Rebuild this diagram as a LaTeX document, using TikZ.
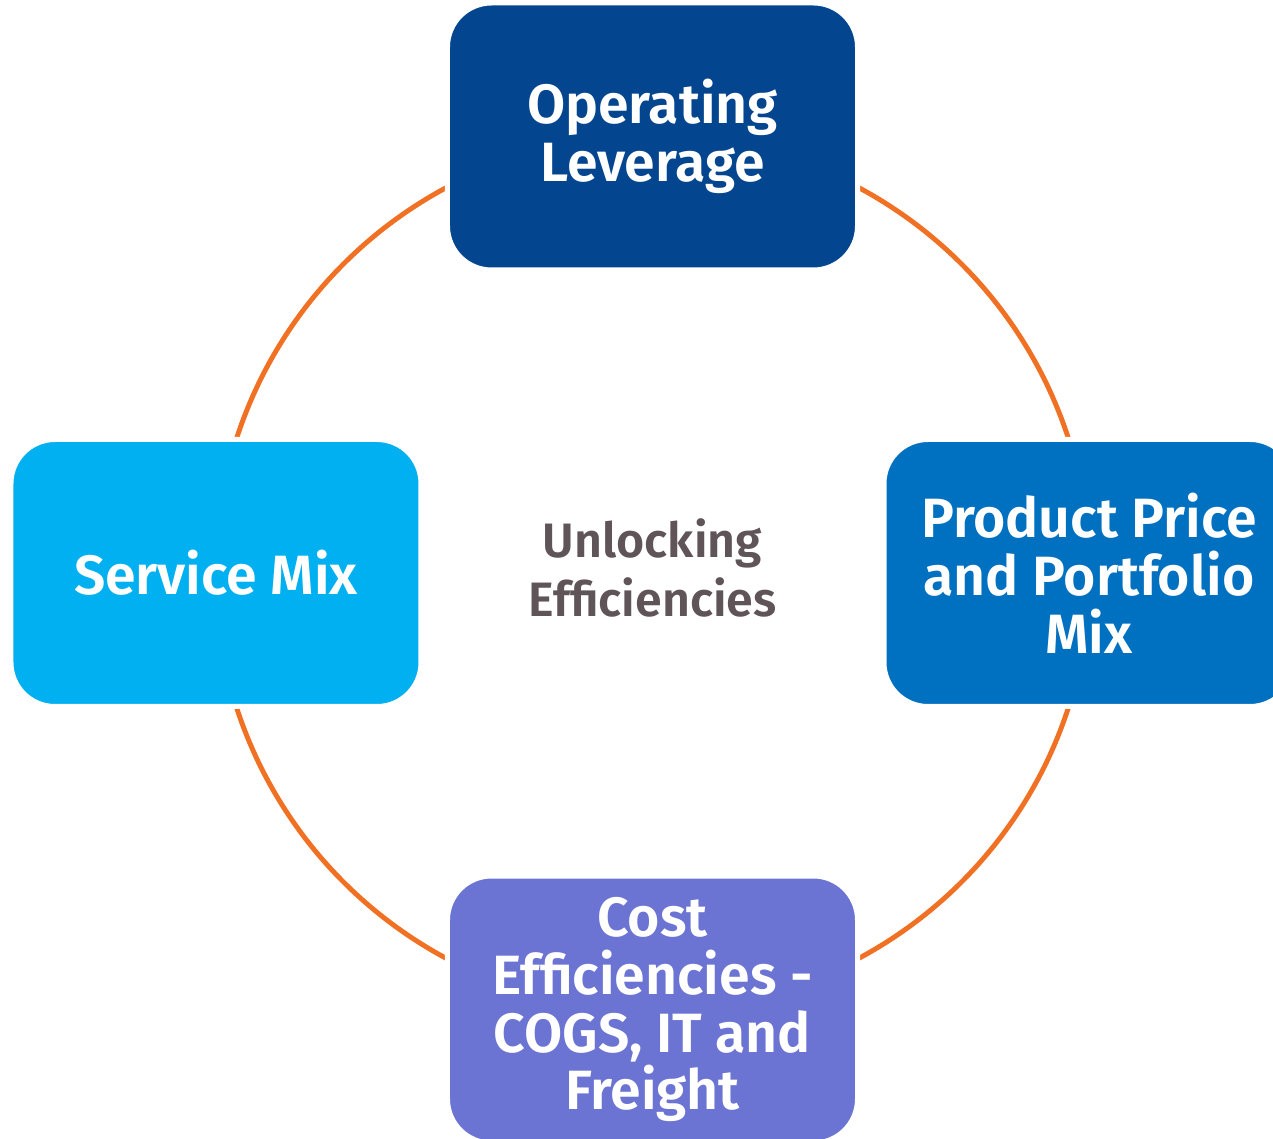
\documentclass[tikz,border=0pt]{standalone}
\usepackage{fontspec}
\setmainfont{Fira Sans}[BoldFont={Fira Sans SemiBold}]
\usepackage{tikz}

\definecolor{leverblue}{HTML}{03458F}
\definecolor{mixcyan}{HTML}{00B0F0}
\definecolor{priceblue}{HTML}{0070C0}
\definecolor{costviolet}{HTML}{6C74D3}
\definecolor{ringorange}{HTML}{F07124}
\definecolor{hubgrey}{HTML}{5F5458}

\begin{document}
\begin{tikzpicture}
	\tikzstyle{Block} = [rounded corners=0.88cm, draw=white, line width=0.1cm, minimum width=8.2cm, minimum height=5.34cm, align=center, text=white, font=\bfseries\fontsize{31.5}{33}\selectfont, node distance=8.73cm]
	\tikzstyle{Ring} = [draw=ringorange, line width=2.8pt]
	
	\useasboundingbox (-13.05,-11.32) rectangle (12.41,11.46);
	\clip (-13.05,-11.32) rectangle (12.41,11.46);
	
	\coordinate (hub) at (0,0);
	\node[name=core, align=center, text=hubgrey, font=\bfseries\fontsize{27.5}{33.5}\selectfont] at ([yshift=0.1cm]hub){Unlocking\\Efficiencies};
	\draw[Ring] (hub) circle (8.74cm);
	
	\node[name=lever, above of=hub, Block, fill=leverblue]{Operating\\Leverage};
	\node[name=mix, left of=hub, Block, fill=mixcyan]{Service Mix};
	\node[name=price, right of=hub, Block, fill=priceblue]{Product Price\\and Portfolio\\Mix};
	\node[name=cost, below of=hub, Block, fill=costviolet]{Cost\\Efficiencies -\\COGS, IT and\\Freight};
\end{tikzpicture}
\end{document}
